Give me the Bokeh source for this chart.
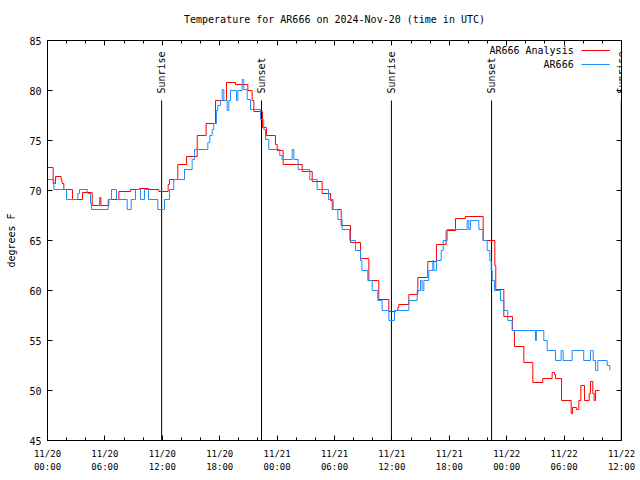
import pandas as pd
from bokeh.plotting import figure
from bokeh.models import (Range1d, FixedTicker, DatetimeTickFormatter, DatetimeAxis,
                          LinearAxis, Label, CustomJSTickFormatter)
from bokeh.embed import file_html
from bokeh.resources import INLINE

# ---- data (hours since 2024-11-20 00:00 UTC, degrees F) ----
red_h = [0.0, 0.59, 0.84, 1.43, 1.53, 1.71, 2.61, 3.66, 4.67, 5.47, 5.58, 6.41, 7.46, 8.68, 9.62,
         10.59, 11.64, 12.61, 12.75, 13.62, 14.53, 15.65, 16.58, 17.56, 18.71, 19.65, 20.94, 21.39,
         21.57, 22.47, 22.89, 23.83, 24.01, 24.63, 26.62, 27.67, 28.71, 29.58, 29.76, 30.7, 31.67,
         32.72, 33.59, 34.63, 35.68, 36.38, 36.62, 36.72, 37.77, 38.71, 39.75, 40.66, 41.67, 42.65,
         43.69, 45.54, 46.76, 46.86, 47.7, 48.6, 48.81, 49.79, 50.73, 51.77, 52.75, 52.99, 53.1,
         53.73, 54.74, 54.88, 55.29, 55.54, 55.75, 56.13, 56.62, 56.76, 57.0, 57.14, 57.28, 57.7]
red_v = [72.3, 70.7, 71.4, 71.0, 70.7, 70.1, 69.1, 69.8, 68.5, 69.3, 68.5, 69.1, 69.9, 70.1, 70.2,
         70.1, 69.9, 70.6, 71.1, 72.6, 73.4, 75.5, 76.7, 79.0, 80.8, 80.6, 80.0, 79.0,
         77.9, 76.3, 75.5, 74.6, 74.0, 72.6, 71.9, 70.9, 69.7, 69.0, 68.1, 66.5, 64.8,
         63.2, 61.0, 59.1, 57.9, 58.0, 58.3, 58.6, 59.6, 61.3, 62.9, 64.6, 66.0, 67.2,
         67.4, 65.0, 62.5, 60.1, 57.4, 56.0, 54.4, 52.8, 50.8, 51.2, 51.8, 51.6, 51.2,
         49.0, 47.7, 48.3, 48.1, 49.0, 50.5, 49.0, 49.7, 50.9, 49.7, 49.0, 50.0, 50.0]

blue_h = [0.0, 0.66, 1.99, 3.17, 3.34, 4.15, 4.49, 4.6, 6.34, 6.69, 7.21, 8.33, 8.75, 9.2, 9.72,
          10.14, 10.56, 11.53, 12.23, 12.75, 13.2, 14.32, 15.12, 15.37, 16.76, 16.86, 16.97, 17.21,
          17.38, 17.66, 17.8, 18.08, 18.26, 18.43, 18.78, 18.95, 19.13, 19.76, 19.9, 20.35, 20.52,
          20.87, 21.22, 22.26, 22.61, 22.79, 23.13, 24.28, 24.53, 25.58, 25.75, 26.2, 27.42, 28.19,
          29.37, 29.86, 30.35, 30.8, 31.6, 32.19, 32.72, 32.86, 33.48, 33.94, 34.53, 34.98, 35.68,
          36.27, 37.77, 38.64, 38.99, 39.16, 39.34, 39.86, 40.28, 40.38, 40.66, 41.15, 41.36, 41.78,
          43.87, 44.04, 44.21, 45.09, 45.54, 45.96, 46.23, 46.38, 46.48, 46.72, 47.35, 47.7, 48.11,
          48.57, 51.01, 51.11, 51.88, 52.23, 53.1, 53.69, 53.9, 54.84, 56.05, 56.76, 57.04, 57.28,
          57.52, 58.5, 58.78]
blue_v = [71.1, 70.1, 69.1, 69.7, 70.1, 69.7, 68.7, 68.1, 69.1, 70.1, 69.1, 68.1, 69.1, 70.1, 69.1,
          70.1, 69.1, 68.1, 69.1, 70.1, 71.1, 72.1, 73.1, 74.1, 74.8, 74.8, 75.5, 76.1,
          76.7, 78.0, 78.5, 79.0, 80.1, 79.0, 78.0, 79.0, 80.0, 79.0, 80.0, 81.1, 80.1,
          79.1, 78.1, 77.1, 76.1, 75.1, 74.1, 73.5, 73.1, 74.1, 73.1, 72.1, 71.1, 70.1,
          69.1, 68.1, 67.1, 66.1, 65.0, 64.0, 63.0, 62.0, 61.0, 60.0, 59.0, 58.0, 57.0,
          58.0, 59.0, 60.0, 61.0, 60.0, 61.0, 62.0, 63.0, 62.0, 63.0, 64.0, 65.0, 66.1,
          67.0, 66.1, 67.0, 66.1, 65.0, 64.0, 63.0, 62.0, 61.0, 60.0, 59.0, 58.0, 57.0,
          56.0, 55.0, 56.0, 55.0, 54.0, 53.0, 54.0, 53.0, 54.0, 53.0, 54.0, 53.0, 52.0,
          53.0, 52.5, 52.0]

sun_h = [11.93, 22.37, 35.95, 46.42, 59.98]
sun_labels = ["Sunrise", "Sunset", "Sunrise", "Sunset", "Sunrise"]

x_tick_h = [0, 6, 12, 18, 24, 30, 36, 42, 48, 54, 60]
x_minor_h = [h for h in range(0, 61, 2)]
y_ticks = [45, 50, 55, 60, 65, 70, 75, 80, 85]

series_names = ["AR666 Analysis", "AR666"]
series_colors = ["#ff0000", "#1e8cff"]

BASE = pd.Timestamp("2024-11-20 00:00")
FONT = "DejaVu Sans Mono"


def ms(h):
    return (BASE + pd.Timedelta(hours=h)).value / 1e6


def dts(hs):
    return BASE + pd.to_timedelta(hs, unit="h")


p = figure(width=640, height=480, x_axis_type="datetime", output_backend="svg",
           toolbar_location=None,
           x_range=Range1d(ms(0), ms(60)), y_range=Range1d(45, 85),
           min_border_left=47, min_border_right=19, min_border_top=40, min_border_bottom=40,
           title="Temperature for AR666 on 2024-Nov-20 (time in UTC)")

p.title.align = "center"
p.title.vertical_align = "top"
p.title.text_font = FONT
p.title.text_font_size = "10px"
p.title.text_font_style = "normal"
p.title.text_color = "black"
p.title.standoff = 27

p.xgrid.visible = False
p.ygrid.visible = False
p.outline_line_color = "black"
p.outline_line_alpha = 1
p.outline_line_width = 1
p.background_fill_color = "white"
p.border_fill_color = "white"

xt = FixedTicker(ticks=[ms(h) for h in x_tick_h], minor_ticks=[ms(h) for h in x_minor_h])
fmt = "%m/%d\n%H:%M"
xf = DatetimeTickFormatter(microseconds=fmt, milliseconds=fmt, seconds=fmt, minsec=fmt,
                           minutes=fmt, hourmin=fmt, hours=fmt, days=fmt, months=fmt, years=fmt)
yt = FixedTicker(ticks=y_ticks, minor_ticks=[])
blank = CustomJSTickFormatter(code="return '';")


def style_axis(ax):
    ax.axis_line_color = None
    ax.major_tick_in = 5
    ax.major_tick_out = 0
    ax.minor_tick_in = 3
    ax.minor_tick_out = 0
    ax.major_tick_line_color = "black"
    ax.minor_tick_line_color = "black"
    ax.major_label_text_font = FONT
    ax.major_label_text_color = "black"


xa = p.xaxis[0]
xa.ticker = xt
xa.formatter = xf
style_axis(xa)
xa.major_label_text_font_size = "9px"
xa.major_label_text_line_height = 1.3
xa.major_label_standoff = 8

ya = p.yaxis[0]
ya.ticker = yt
style_axis(ya)
ya.minor_tick_in = 0
ya.major_label_text_font_size = "10px"
ya.major_label_standoff = 6
ya.axis_label = "degrees F"
ya.axis_label_text_font = FONT
ya.axis_label_text_font_size = "10px"
ya.axis_label_text_font_style = "normal"
ya.axis_label_text_color = "black"
ya.axis_label_standoff = 9

top = DatetimeAxis(ticker=xt, formatter=blank)
style_axis(top)
top.major_label_standoff = 0
p.add_layout(top, "above")
right = LinearAxis(ticker=yt, formatter=blank)
style_axis(right)
right.minor_tick_in = 0
right.major_label_standoff = 0
p.add_layout(right, "right")

# sunrise / sunset markers
sun_top = 45 + 0.85 * (85 - 45)
p.segment(x0=[ms(h) for h in sun_h], y0=[45] * len(sun_h),
          x1=[ms(h) for h in sun_h], y1=[sun_top] * len(sun_h),
          line_color="black", line_width=1)
for h, lab in zip(sun_h, sun_labels):
    p.add_layout(Label(x=ms(h), y=sun_top + 0.7, text=lab, angle=90, angle_units="deg",
                       text_align="left", text_baseline="middle", text_font=FONT,
                       text_font_size="10px", text_color="black"))

# series
p.step(x=dts(red_h), y=red_v, mode="after", line_color=series_colors[0], line_width=1)
p.step(x=dts(blue_h), y=blue_v, mode="after", line_color=series_colors[1], line_width=1)

# gnuplot style key (text left, sample right)
key_y = [84.0, 82.6]
for name, col, ky in zip(series_names, series_colors, key_y):
    p.add_layout(Label(x=ms(55.0), y=ky, text=name, text_align="right", text_baseline="middle",
                       text_font=FONT, text_font_size="10px", text_color="black"))
    p.segment(x0=[ms(55.82)], y0=[ky], x1=[ms(58.78)], y1=[ky], line_color=col, line_width=1)

open("out.html", "w").write(file_html(p, INLINE))
